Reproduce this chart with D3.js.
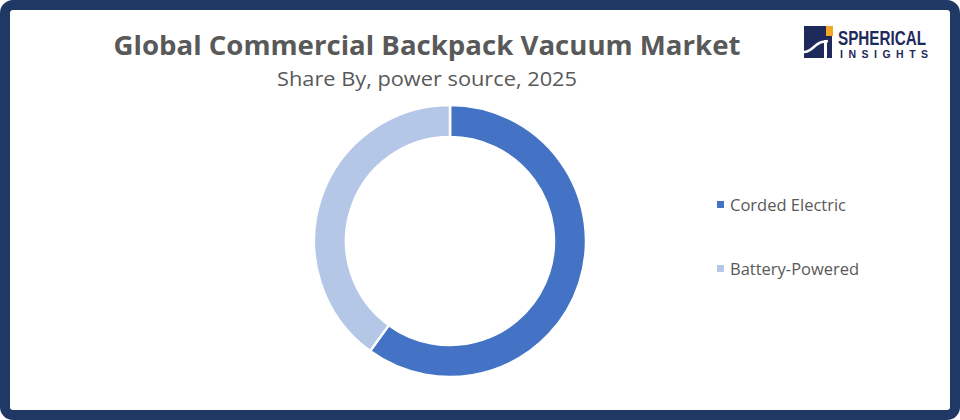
<!DOCTYPE html>
<html><head><meta charset="utf-8">
<script src="https://cdn.jsdelivr.net/npm/d3@7"></script>
<style>html,body{margin:0;padding:0;background:#fff;}svg{display:block;}</style>
</head><body>
<svg id="c" width="960" height="420"></svg>
<script>
const categories = ["Corded Electric", "Battery-Powered"];
const shares = [60, 40];
const colors = ["#4472c4", "#b4c7e7"];
const title = "Global Commercial Backpack Vacuum Market";
const subtitle = "Share By, power source, 2025";

const svg = d3.select("#c");
// frame
svg.append("rect").attr("x",5).attr("y",5).attr("width",950).attr("height",410)
  .attr("rx",8).attr("fill","#fff").attr("stroke","#1f3864").attr("stroke-width",10);

svg.append("text").attr("x",427).attr("y",55).attr("text-anchor","middle")
  .attr("font-family","Open Sans, sans-serif").attr("font-weight","bold").attr("font-size",27)
  .attr("fill","#595959").attr("textLength",627).attr("lengthAdjust","spacingAndGlyphs").text(title);
svg.append("text").attr("x",427).attr("y",86).attr("text-anchor","middle")
  .attr("font-family","Open Sans, sans-serif").attr("font-size",19.5)
  .attr("fill","#595959").attr("textLength",300).attr("lengthAdjust","spacingAndGlyphs").text(subtitle);

// donut
const cx = 450, cy = 241;
const pie = d3.pie().sort(null).value(d => d);
const arc = d3.arc().innerRadius(104).outerRadius(136);
const g = svg.append("g").attr("transform",`translate(${cx},${cy})`);
g.selectAll("path").data(pie(shares)).join("path")
  .attr("d", arc).attr("fill", (d,i) => colors[i])
  .attr("stroke","#fff").attr("stroke-width",2.5);

// legend
const lg = svg.append("g");
const ly = d3.scalePoint().domain(categories).range([205, 269]);
categories.forEach((c,i) => {
  lg.append("rect").attr("x",717).attr("y",ly(c)-4).attr("width",7).attr("height",7).attr("fill",colors[i]);
  lg.append("text").attr("x",730).attr("y",ly(c)+6).attr("font-family","Open Sans, sans-serif")
    .attr("font-size",16.5).attr("fill","#595959").text(c);
});

// logo
const logo = svg.append("g");
logo.append("rect").attr("x",804).attr("y",26).attr("width",28).attr("height",32).attr("fill","#1f2a5c");
logo.append("rect").attr("x",826).attr("y",26).attr("width",7).attr("height",10).attr("fill","#f5a623");
logo.append("path").attr("d","M804,52 C812,52 814,44 822,42 L828,41").attr("stroke","#fff").attr("stroke-width",2.5).attr("fill","none");
logo.append("rect").attr("x",824).attr("y",40).attr("width",3).attr("height",18).attr("fill","#fff");
logo.append("text").attr("x",838).attr("y",45).attr("font-family","Liberation Sans, Arial, sans-serif")
  .attr("font-weight","bold").attr("font-size",21).attr("fill","#1f2a5c")
  .attr("textLength",88).attr("lengthAdjust","spacingAndGlyphs").text("SPHERICAL");
logo.append("text").attr("x",840).attr("y",58).attr("font-family","Liberation Sans, Arial, sans-serif")
  .attr("font-weight","bold").attr("font-size",10.5).attr("fill","#1f2a5c").attr("letter-spacing",5.5).text("INSIGHTS");
</script>
</body></html>
